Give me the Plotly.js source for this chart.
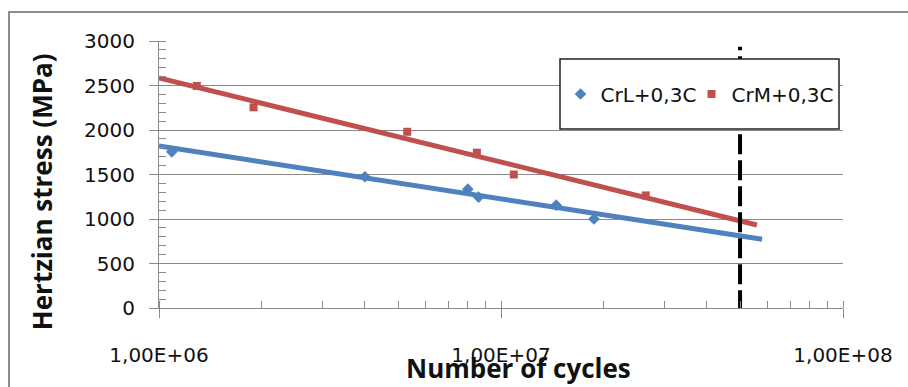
<!DOCTYPE html>
<html>
<head>
<meta charset="utf-8">
<script src="https://cdn.plot.ly/plotly-3.0.1.min.js"></script>
<style>html,body{margin:0;padding:0;background:#fff;}#chart{width:908px;height:387px;}</style>
</head>
<body>
<div id="chart"></div>
<script>
// ---- data ----
const crlCycles = [1.09e6, 4.0e6, 8.0e6, 8.6e6, 1.45e7, 1.87e7];
const crlStress = [1755, 1475, 1335, 1245, 1155, 1000];
const crmCycles = [1.29e6, 1.89e6, 5.32e6, 8.5e6, 1.09e7, 2.65e7];
const crmStress = [2495, 2255, 1980, 1745, 1500, 1265];
// trend lines
const crlTrendX = [1.0e6, 5.8e6, 5.8e7];
const crlTrendY = [1820, 1370, 772];
const crmTrendX = [1.0e6, 5.6e6, 5.6e7];
const crmTrendY = [2585, 1880, 933];
// vertical cut-off marker
const cutoffX = [5.0e7, 5.0e7];
const cutoffY = [-25, 2935];
const seriesNames = ['CrL+0,3C', 'CrM+0,3C'];
const xTickVals = [1e6, 1e7, 1e8];
const xTickText = ['1,00E+06', '1,00E+07', '1,00E+08'];
const yTickVals = [0, 500, 1000, 1500, 2000, 2500, 3000];

const blue = '#4F81BD', red = '#C0504D', gridc = '#8a8a8a';
const FONT = '"DejaVu Sans", sans-serif';
const TFONT = '"Open Sans", "Noto Sans", sans-serif';

const traces = [
  {x: crlTrendX, y: crlTrendY, mode: 'lines', line: {color: blue, width: 5}, showlegend: false, hoverinfo: 'skip'},
  {x: crmTrendX, y: crmTrendY, mode: 'lines', line: {color: red, width: 5}, showlegend: false, hoverinfo: 'skip'},
  {x: crlCycles, y: crlStress, mode: 'markers', name: seriesNames[0], legend: 'legend',
   marker: {symbol: 'diamond', color: blue, size: 9}},
  {x: crmCycles, y: crmStress, mode: 'markers', name: seriesNames[1], legend: 'legend2',
   marker: {symbol: 'square', color: red, size: 8}},
  {x: cutoffX, y: cutoffY, mode: 'lines', line: {color: '#000', width: 4, dash: '20px,6px'}, showlegend: false, hoverinfo: 'skip', cliponaxis: false}
];

const legendBase = {
  orientation: 'h', xanchor: 'left', y: 0.8015, yanchor: 'middle',
  bgcolor: 'rgba(0,0,0,0)', borderwidth: 0,
  font: {family: FONT, size: 20, color: '#111'}
};

const layout = {
  width: 908, height: 387,
  margin: {l: 159, r: 65, t: 41, b: 79},
  paper_bgcolor: '#fff', plot_bgcolor: '#fff',
  font: {family: FONT, size: 20, color: '#111'},
  showlegend: true,
  legend: Object.assign({}, legendBase, {x: (560.5 - 159) / 684}),
  legend2: Object.assign({}, legendBase, {x: (691.5 - 159) / 684}),
  xaxis: {
    type: 'log', range: [6, 8],
    tickmode: 'array', tickvals: xTickVals, ticktext: xTickText,
    ticks: 'outside', ticklen: 9, tickcolor: gridc, tickwidth: 1,
    ticklabelstandoff: 20,
    showline: true, linecolor: gridc, linewidth: 1,
    showgrid: false, zeroline: false,
    tickfont: {family: FONT, size: 20, color: '#111'},
    minor: {ticks: 'inside', ticklen: 7, tickcolor: gridc, dtick: 'D1', showgrid: false}
  },
  yaxis: {
    range: [0, 3000],
    tickmode: 'array', tickvals: yTickVals,
    ticks: 'outside', ticklen: 9, tickcolor: gridc, tickwidth: 1,
    ticklabelstandoff: 10,
    showline: true, linecolor: gridc, linewidth: 1,
    showgrid: true, gridcolor: gridc, gridwidth: 1,
    zeroline: false,
    tickfont: {family: FONT, size: 20, color: '#111'},
    minor: {ticks: 'inside', ticklen: 7, tickcolor: gridc, dtick: 100, showgrid: false}
  },
  shapes: [
    {type: 'rect', xref: 'paper', yref: 'paper', x0: -0.2193, x1: 1.12, y0: -0.35, y1: 1.1086,
     line: {color: '#8c8c8c', width: 2}, fillcolor: 'rgba(0,0,0,0)', layer: 'below'},
    {type: 'rect', xref: 'paper', yref: 'paper', x0: (560 - 159) / 684, x1: (839 - 159) / 684,
     y0: (308 - 129) / 267, y1: (308 - 59) / 267,
     line: {color: '#222', width: 1.5}, fillcolor: '#fff', layer: 'above'}
  ],
  annotations: [
    {text: '<b>Hertzian stress (MPa)</b>', xref: 'paper', yref: 'paper', x: -0.171, y: 0.434,
     xanchor: 'center', yanchor: 'middle', textangle: -90, showarrow: false,
     font: {family: TFONT, size: 26, color: '#111'}},
    {text: '<b>Number of cycles</b>', xref: 'paper', yref: 'paper', x: 0.526, y: -0.2247,
     xanchor: 'center', yanchor: 'middle', showarrow: false,
     font: {family: TFONT, size: 26, color: '#111'}}
  ]
};

Plotly.newPlot('chart', traces, layout, {displayModeBar: false, staticPlot: true});
</script>
</body>
</html>
